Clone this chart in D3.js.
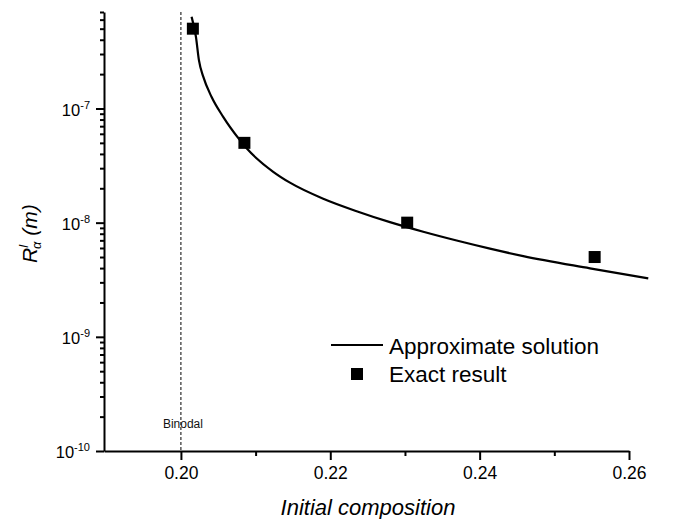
<!DOCTYPE html>
<html>
<head>
<meta charset="utf-8">
<script src="https://cdn.jsdelivr.net/npm/d3@7"></script>
<style>
  body { margin: 0; background: #fff; }
  svg { display: block; font-family: "Liberation Sans", Arial, sans-serif; }
</style>
</head>
<body>
<svg id="chart" width="695" height="519"></svg>
<script>
// Approximate solution (curve)
const curveX = [0.20143, 0.20201, 0.20241, 0.20299, 0.20411, 0.20566, 0.2079, 0.2088,
  0.21236, 0.2146, 0.21906, 0.22353, 0.22799, 0.23245, 0.23692, 0.24138, 0.24584, 0.25477, 0.26258];
const curveY = [6.35e-7, 4.25e-7, 2.65e-7, 1.9e-7, 1.26e-7, 8.45e-8, 5.28e-8, 4.48e-8,
  2.79e-8, 2.24e-8, 1.62e-8, 1.26e-8, 1.01e-8, 8.32e-9, 6.97e-9, 5.92e-9, 5.09e-9, 3.98e-9, 3.25e-9];

// Exact result (squares)
const exactX = [0.2016, 0.2085, 0.2303, 0.2554];
const exactY = [5e-7, 5e-8, 1e-8, 5e-9];

// Axes
const xTicks = [0.20, 0.22, 0.24, 0.26];
const xMinorTicks = [0.21, 0.23, 0.25];
const yTicks = [1e-10, 1e-9, 1e-8, 1e-7];
const yTickExp = ["-10", "-9", "-8", "-7"];
const xDomain = [0.1897, 0.26];
const yDomain = [1e-10, 7e-7];
const binodal = 0.20;
const legendLabels = ["Approximate solution", "Exact result"];

const svg = d3.select("#chart");

const x = d3.scaleLinear().domain(xDomain).range([104, 629]);
const y = d3.scaleLog().domain(yDomain).range([451, 12]);

// minor y ticks: 2..9 in each decade, inside the domain
const yMinorTicks = [];
yTicks.forEach(t => {
  for (let k = 2; k <= 9; k++) {
    const v = t * k;
    if (v <= yDomain[1] * 1.0001) yMinorTicks.push(v);
  }
});

// Binodal dashed line
svg.append("line")
  .attr("x1", x(binodal)).attr("x2", x(binodal))
  .attr("y1", y(yDomain[1])).attr("y2", y(yDomain[0]))
  .attr("stroke", "#000")
  .attr("stroke-width", 1)
  .attr("stroke-dasharray", "3,2");

svg.append("text")
  .attr("x", x(binodal) + 2)
  .attr("y", 428)
  .attr("text-anchor", "middle")
  .attr("font-size", 12)
  .attr("fill", "#111")
  .text("Binodal");

// X axis
const xAxis = svg.append("g")
  .attr("transform", `translate(0,${y(yDomain[0])})`)
  .call(d3.axisBottom(x).tickValues(xTicks).tickSize(9).tickSizeOuter(0)
    .tickPadding(7).tickFormat(d3.format(".2f")));

svg.append("g")
  .attr("transform", `translate(0,${y(yDomain[0])})`)
  .call(d3.axisBottom(x).tickValues(xMinorTicks).tickSize(5).tickSizeOuter(0).tickFormat(""))
  .select(".domain").remove();

xAxis.selectAll("text")
  .attr("font-size", 17.5)
  .attr("fill", "#000");

// Y axis
const yAxis = svg.append("g")
  .attr("transform", `translate(${x(xDomain[0])},0)`)
  .call(d3.axisLeft(y).tickValues(yTicks).tickSize(8).tickSizeOuter(0).tickFormat(() => ""));

svg.append("g")
  .attr("transform", `translate(${x(xDomain[0])},0)`)
  .call(d3.axisLeft(y).tickValues(yMinorTicks).tickSize(4).tickSizeOuter(0).tickFormat(""))
  .select(".domain").remove();

yAxis.selectAll(".tick text").each(function (d, i) {
  const t = d3.select(this)
    .attr("x", -14)
    .attr("dy", "0.4em")
    .attr("font-size", 16.5)
    .attr("fill", "#000");
  t.append("tspan").text("10");
  t.append("tspan").attr("font-size", 11).attr("dy", -7).text(yTickExp[i]);
});

svg.selectAll(".domain, .tick line")
  .attr("stroke", "#000")
  .attr("stroke-width", 2);

// Curve
const line = d3.line()
  .x((d, i) => x(curveX[i]))
  .y(d => y(d))
  .curve(d3.curveMonotoneX);

svg.append("path")
  .datum(curveY)
  .attr("fill", "none")
  .attr("stroke", "#000")
  .attr("stroke-width", 2.2)
  .attr("d", line);

// Squares
const sq = 12;
svg.selectAll("rect.exact")
  .data(exactY)
  .join("rect")
  .attr("class", "exact")
  .attr("x", (d, i) => x(exactX[i]) - sq / 2)
  .attr("y", d => y(d) - sq / 2)
  .attr("width", sq)
  .attr("height", sq)
  .attr("fill", "#000");

// Legend
const legend = svg.append("g");
legend.append("line")
  .attr("x1", 331).attr("x2", 383)
  .attr("y1", 345).attr("y2", 345)
  .attr("stroke", "#000").attr("stroke-width", 2.2);
legend.append("rect")
  .attr("x", 357 - sq / 2).attr("y", 374 - sq / 2)
  .attr("width", sq).attr("height", sq)
  .attr("fill", "#000");
legend.selectAll("text")
  .data(legendLabels)
  .join("text")
  .attr("x", 389)
  .attr("y", (d, i) => [354.3, 382.3][i])
  .attr("font-size", 22.5)
  .attr("fill", "#000")
  .text(d => d);

// Axis titles
svg.append("text")
  .attr("x", 368)
  .attr("y", 515)
  .attr("text-anchor", "middle")
  .attr("font-size", 22)
  .attr("font-style", "italic")
  .attr("fill", "#000")
  .text("Initial composition");

const yTitle = svg.append("text")
  .attr("transform", "translate(37,263) rotate(-90)")
  .attr("font-size", 21)
  .attr("font-style", "italic")
  .attr("fill", "#000");
yTitle.append("tspan").text("R");
yTitle.append("tspan").attr("font-size", 13).attr("dy", -9).text("l");
yTitle.append("tspan").attr("font-size", 13).attr("dx", -4).attr("dy", 13).text("α");
yTitle.append("tspan").attr("dy", -4).text(" (m)");
</script>
</body>
</html>
